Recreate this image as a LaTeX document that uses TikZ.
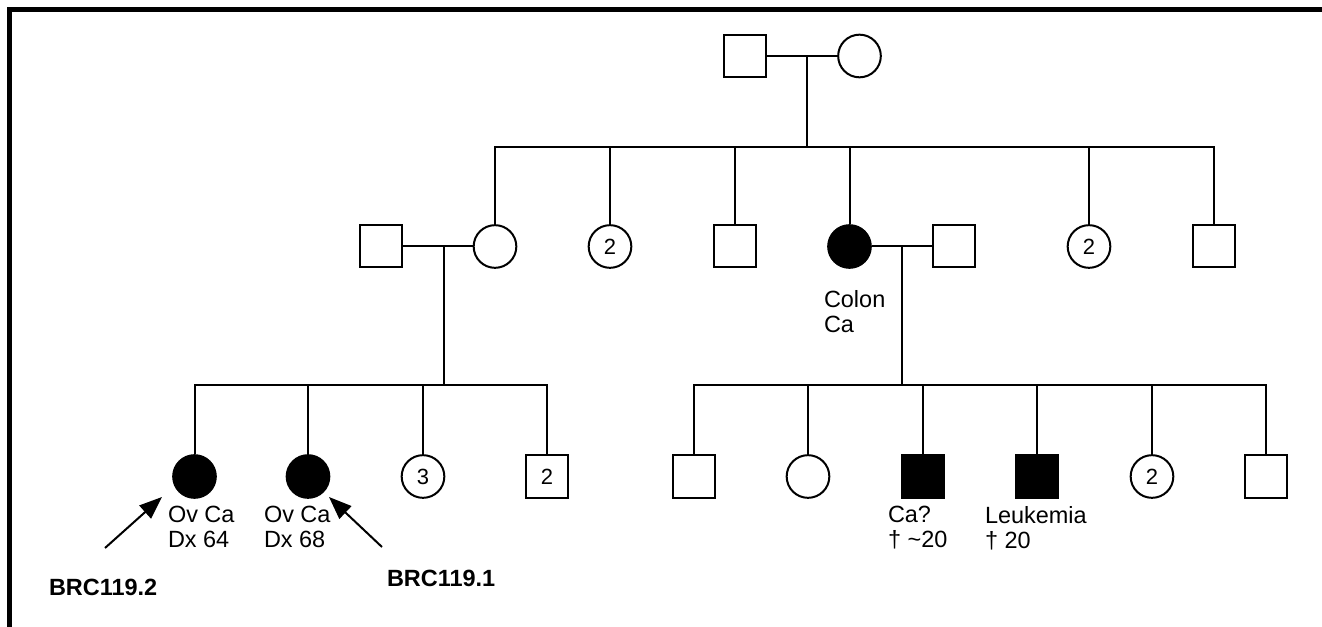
\documentclass[tikz,border=0pt]{standalone}
\usepackage{fontspec}
\setmainfont{Liberation Sans}
\usetikzlibrary{arrows.meta}
\begin{document}
\begin{tikzpicture}[x=0.75pt,y=-0.75pt,line width=1.5pt,
  male/.style={draw,rectangle,minimum size=31.5pt,inner sep=0pt,font=\fontsize{16.5}{18}\selectfont},
  female/.style={draw,circle,minimum size=32pt,inner sep=0pt,font=\fontsize{16.5}{18}\selectfont},
  affM/.style={male,fill=black},
  affF/.style={female,fill=black},
  note/.style={anchor=north west,align=left,inner sep=0pt,font=\fontsize{17.6}{18.75}\selectfont},
  proband/.style={anchor=base west,inner sep=0pt,font=\fontsize{17.6}{19}\selectfont\bfseries},
  arr/.style={-{Triangle[length=17pt,width=13pt]}}]
\useasboundingbox (0,0) rectangle (1322,627);
% frame, cut off right and below
\draw[line width=3.75pt] (9.5,627) -- (9.5,9.5) -- (1322,9.5);
% generation I
\node[male] (gm) at (745,56) {};
\node[female] (gf) at (859.5,56) {};
\coordinate (g0) at (807,56);
\coordinate (s1) at (807,147);
\draw (gm) -- (gf);
\draw (g0) -- (s1);
% generation II
\foreach \n/\x/\s/\t in {a1/495/female/,a2/610/female/2,a3/735/male/,a4/849.5/affF/,a5/1089/female/2,a6/1213.5/male/}
  {\node[\s] (\n) at (\x,246.5) {\t}; \draw (\n) |- (s1);}
\node[male] (a1h) at (381,246.5) {};
\node[male] (a4h) at (953.5,246.5) {};
\draw (a1h) -- (a1);
\draw (a4) -- (a4h);
\coordinate (c1) at (444,246.5);
\coordinate (s2) at (444,385.5);
\coordinate (c2) at (902,246.5);
\coordinate (s3) at (902,385.5);
\draw (c1) -- (s2);
\draw (c2) -- (s3);
\node[note] (colon) at (823,289) {Colon\\Ca};
% generation III
\foreach \n/\x/\s/\t in {b1/194.5/affF/,b2/308/affF/,b3/423/female/3,b4/547/male/2}
  {\node[\s] (\n) at (\x,476.5) {\t}; \draw (\n) |- (s2);}
\foreach \n/\x/\s/\t in {d1/693.5/male/,d2/808/female/,d3/922.5/affM/,d4/1037/affM/,d5/1152/female/2,d6/1266/male/}
  {\node[\s] (\n) at (\x,476.5) {\t}; \draw (\n) |- (s3);}
\node[note] (ov1) at (167,505) {Ov Ca\\Dx 64};
\node[note] (ov2) at (263,505) {Ov Ca\\Dx 68};
\node[note] (ca) at (887,505) {Ca?\\† \textasciitilde20};
\node[note] (leuk) at (984,505) {Leukemia\\† 20};
% probands
\node[proband] (p2) at (48,595) {BRC119.2};
\node[proband] (p1) at (386,586) {BRC119.1};
\coordinate (t2) at (105,548);
\coordinate (h2) at (162,497);
\coordinate (t1) at (382,547);
\coordinate (h1) at (329,497);
\draw[arr] (t2) -- (h2);
\draw[arr] (t1) -- (h1);
\end{tikzpicture}
\end{document}
